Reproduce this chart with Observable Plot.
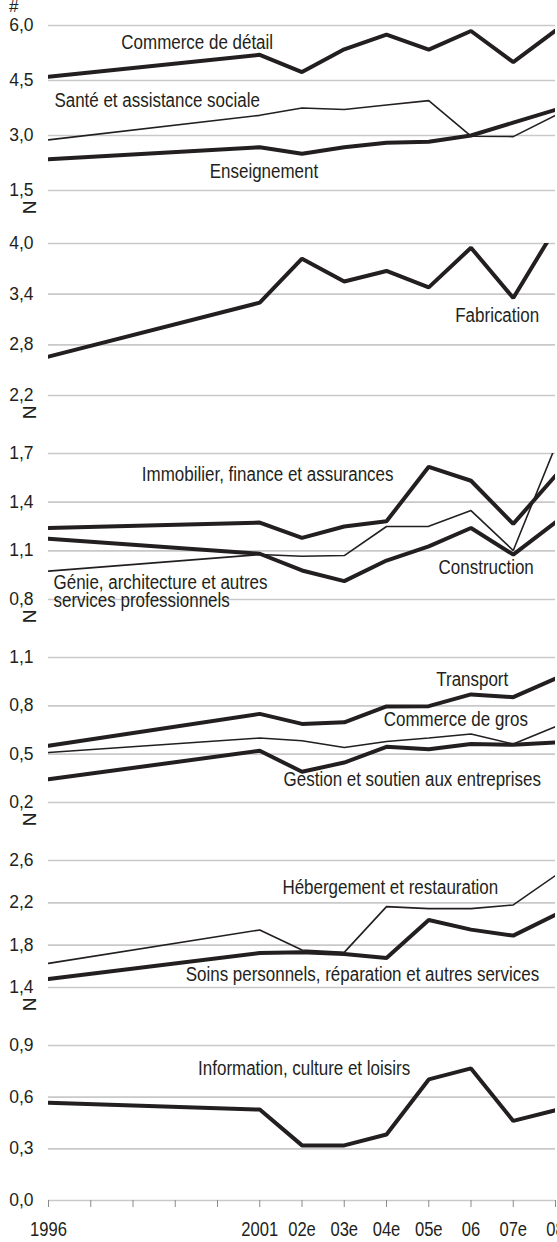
<!DOCTYPE html>
<html>
<head>
<meta charset="utf-8">
<script src="https://cdn.jsdelivr.net/npm/d3@7"></script>
<script src="https://cdn.jsdelivr.net/npm/@observablehq/plot@0.6"></script>
<style>
  html, body { margin: 0; padding: 0; background: #fff; }
  #chart { width: 557px; height: 1242px; overflow: hidden; position: relative; }
  #chart svg { display: block; }
  #hash { position: absolute; left: 9px; top: -3px; font: 17px "Liberation Sans", Arial, sans-serif; color: #231f20; }
</style>
</head>
<body>
<div id="chart"><div id="hash">#</div></div>
<script>
// ---- data ----
const years = [1996, 2001, 2002, 2003, 2004, 2005, 2006, 2007, 2008];
const tickYears = [1996, 1997, 1998, 1999, 2000, 2001, 2002, 2003, 2004, 2005, 2006, 2007, 2008];
const tickLabels = ["1996", "", "", "", "", "2001", "02e", "03e", "04e", "05e", "06", "07e", "08"];

const commerceDetail = [4.60, 5.20, 4.73, 5.35, 5.75, 5.34, 5.85, 5.00, 5.86];
const sante          = [2.88, 3.55, 3.75, 3.71, 3.83, 3.95, 2.98, 2.97, 3.55];
const enseignement   = [2.35, 2.68, 2.50, 2.68, 2.80, 2.83, 3.00, 3.35, 3.70];
const fabrication    = [2.66, 3.30, 3.82, 3.55, 3.675, 3.48, 3.95, 3.355, 4.18];
const immobilier     = [1.240, 1.274, 1.180, 1.250, 1.282, 1.618, 1.532, 1.266, 1.563];
const construction   = [1.174, 1.082, 0.979, 0.913, 1.040, 1.128, 1.241, 1.077, 1.276];
const genie          = [0.975, 1.077, 1.067, 1.071, 1.250, 1.251, 1.348, 1.102, 1.745];
const transport      = [0.552, 0.750, 0.688, 0.698, 0.796, 0.798, 0.871, 0.854, 0.969];
const commerceGros   = [0.510, 0.600, 0.583, 0.541, 0.579, 0.600, 0.625, 0.563, 0.671];
const gestion        = [0.344, 0.521, 0.391, 0.448, 0.546, 0.531, 0.563, 0.558, 0.573];
const hebergement    = [1.628, 1.944, 1.754, 1.732, 2.164, 2.145, 2.145, 2.180, 2.458];
const soins          = [1.480, 1.726, 1.732, 1.716, 1.679, 2.038, 1.947, 1.890, 2.086];
const information    = [0.567, 0.528, 0.320, 0.320, 0.383, 0.703, 0.767, 0.462, 0.524];

const ticks1 = [1.5, 3.0, 4.5, 6.0];
const ticks2 = [2.2, 2.8, 3.4, 4.0];
const ticks3 = [0.8, 1.1, 1.4, 1.7];
const ticks4 = [0.2, 0.5, 0.8, 1.1];
const ticks5 = [1.4, 1.8, 2.2, 2.6];
const ticks6 = [0.0, 0.3, 0.6, 0.9];

// series labels: text, x (year), y (value)
const labels1 = [
  {text: "Commerce de détail", x: 1999.52, y: 5.52},
  {text: "Santé et assistance sociale", x: 1996.14, y: 3.94, start: true},
  {text: "Enseignement", x: 2001.1, y: 2.0}
];
const labels2 = [{text: "Fabrication", x: 2006.62, y: 3.14}];
const labels3 = [
  {text: "Immobilier, finance et assurances", x: 1998.21, y: 1.569, start: true},
  {text: "Construction", x: 2006.36, y: 0.993},
  {text: "Génie, architecture et autres\nservices professionnels", x: 1996.12, y: 0.846, start: true}
];
const labels4 = [
  {text: "Transport", x: 2006.03, y: 0.9625},
  {text: "Commerce de gros", x: 2005.64, y: 0.7125},
  {text: "Gestion et soutien aux entreprises", x: 2004.61, y: 0.344}
];
const labels5 = [
  {text: "Hébergement et restauration", x: 2004.09, y: 2.338},
  {text: "Soins personnels, réparation et autres services", x: 2003.43, y: 1.52}
];
const labels6 = [{text: "Information, culture et loisirs", x: 2002.05, y: 0.767}];

// ---- drawing ----
const FONT = '"Liberation Sans", Arial, sans-serif';
const INK = "#231f20";
const fmt = d => d.toFixed(1).replace(".", ",");
const toRows = vals => years.map((x, i) => ({x, y: vals[i]}));
const tickMap = new Map(tickYears.map((y, i) => [y, tickLabels[i]]));

function panel({height, marginTop, marginBottom, ticks, thick, thin, labels, breakMark, xAxis}) {
  const marks = [
    Plot.ruleY(ticks, {stroke: "#c9c9c9", strokeWidth: 1.6}),
    Plot.axisY(ticks, {tickSize: 0, tickPadding: 15, tickFormat: fmt, fontSize: 17.5, label: null}),
    ...thin.map(s => Plot.line(toRows(s), {x: "x", y: "y", stroke: INK, strokeWidth: 1.6, strokeLinejoin: "miter", clip: true})),
    ...thick.map(s => Plot.line(toRows(s), {x: "x", y: "y", stroke: INK, strokeWidth: 4, strokeLinejoin: "miter", clip: true})),
    Plot.text(labels.filter(d => !d.start), {x: "x", y: "y", text: "text", fontSize: 19.5, fill: INK, textAnchor: "middle"}),
    Plot.text(labels.filter(d => d.start), {x: "x", y: "y", text: "text", fontSize: 19.5, fill: INK, textAnchor: "start", lineHeight: 0.93})
  ];
  if (breakMark) {
    marks.push(Plot.text([0], {frameAnchor: "bottom-left", dx: -26, dy: 10, text: () => "N", rotate: 90, fontSize: 19, fill: INK}));
  }
  if (xAxis) {
    marks.push(Plot.axisX(tickYears, {tickSize: 7, tickPadding: 14, stroke: "#8a8a8a", tickFormat: d => tickMap.get(d), fontSize: 21, fill: INK, label: null}));
  }
  return Plot.plot({
    width: 557,
    height,
    marginLeft: 48,
    marginRight: 2,
    marginTop,
    marginBottom,
    x: {domain: [1996, 2008], axis: null},
    y: {domain: [ticks[0], ticks[ticks.length - 1]], axis: null},
    style: {fontFamily: FONT, fontSize: "17px", color: INK, background: "transparent", overflow: "visible"},
    marks
  });
}

// horizontally condense text to imitate the narrow typeface of the original
const labelTexts = new Set([...labels1, ...labels2, ...labels3, ...labels4, ...labels5, ...labels6].map(d => d.text.replace("\n", "")));
const xTickTexts = new Set(tickLabels.filter(d => d));
function condense(svg) {
  svg.querySelectorAll("text").forEach(t => {
    const s = t.textContent;
    let f = null;
    if (labelTexts.has(s)) f = 0.87;
    else if (xTickTexts.has(s)) f = 0.79;
    if (f) {
      const tr = t.getAttribute("transform") || "";
      t.setAttribute("transform", tr + ` scale(${f},1)`);
    }
  });
}

const chart = document.getElementById("chart");
const specs = [
  {height: 215, marginTop: 25, marginBottom: 25, ticks: ticks1, thick: [commerceDetail, enseignement], thin: [sante], labels: labels1, breakMark: true},
  {height: 205, marginTop: 28, marginBottom: 25, ticks: ticks2, thick: [fabrication], thin: [], labels: labels2, breakMark: true},
  {height: 205, marginTop: 33, marginBottom: 26, ticks: ticks3, thick: [immobilier, construction], thin: [genie], labels: labels3, breakMark: true},
  {height: 205, marginTop: 32, marginBottom: 28, ticks: ticks4, thick: [transport, gestion], thin: [commerceGros], labels: labels4, breakMark: true},
  {height: 185, marginTop: 30, marginBottom: 28, ticks: ticks5, thick: [soins], thin: [hebergement], labels: labels5, breakMark: true},
  {height: 227, marginTop: 30, marginBottom: 42, ticks: ticks6, thick: [information], thin: [], labels: labels6, breakMark: false, xAxis: true}
];
for (const s of specs) {
  const svg = panel(s);
  chart.appendChild(svg);
  condense(svg);
}
</script>
</body>
</html>
